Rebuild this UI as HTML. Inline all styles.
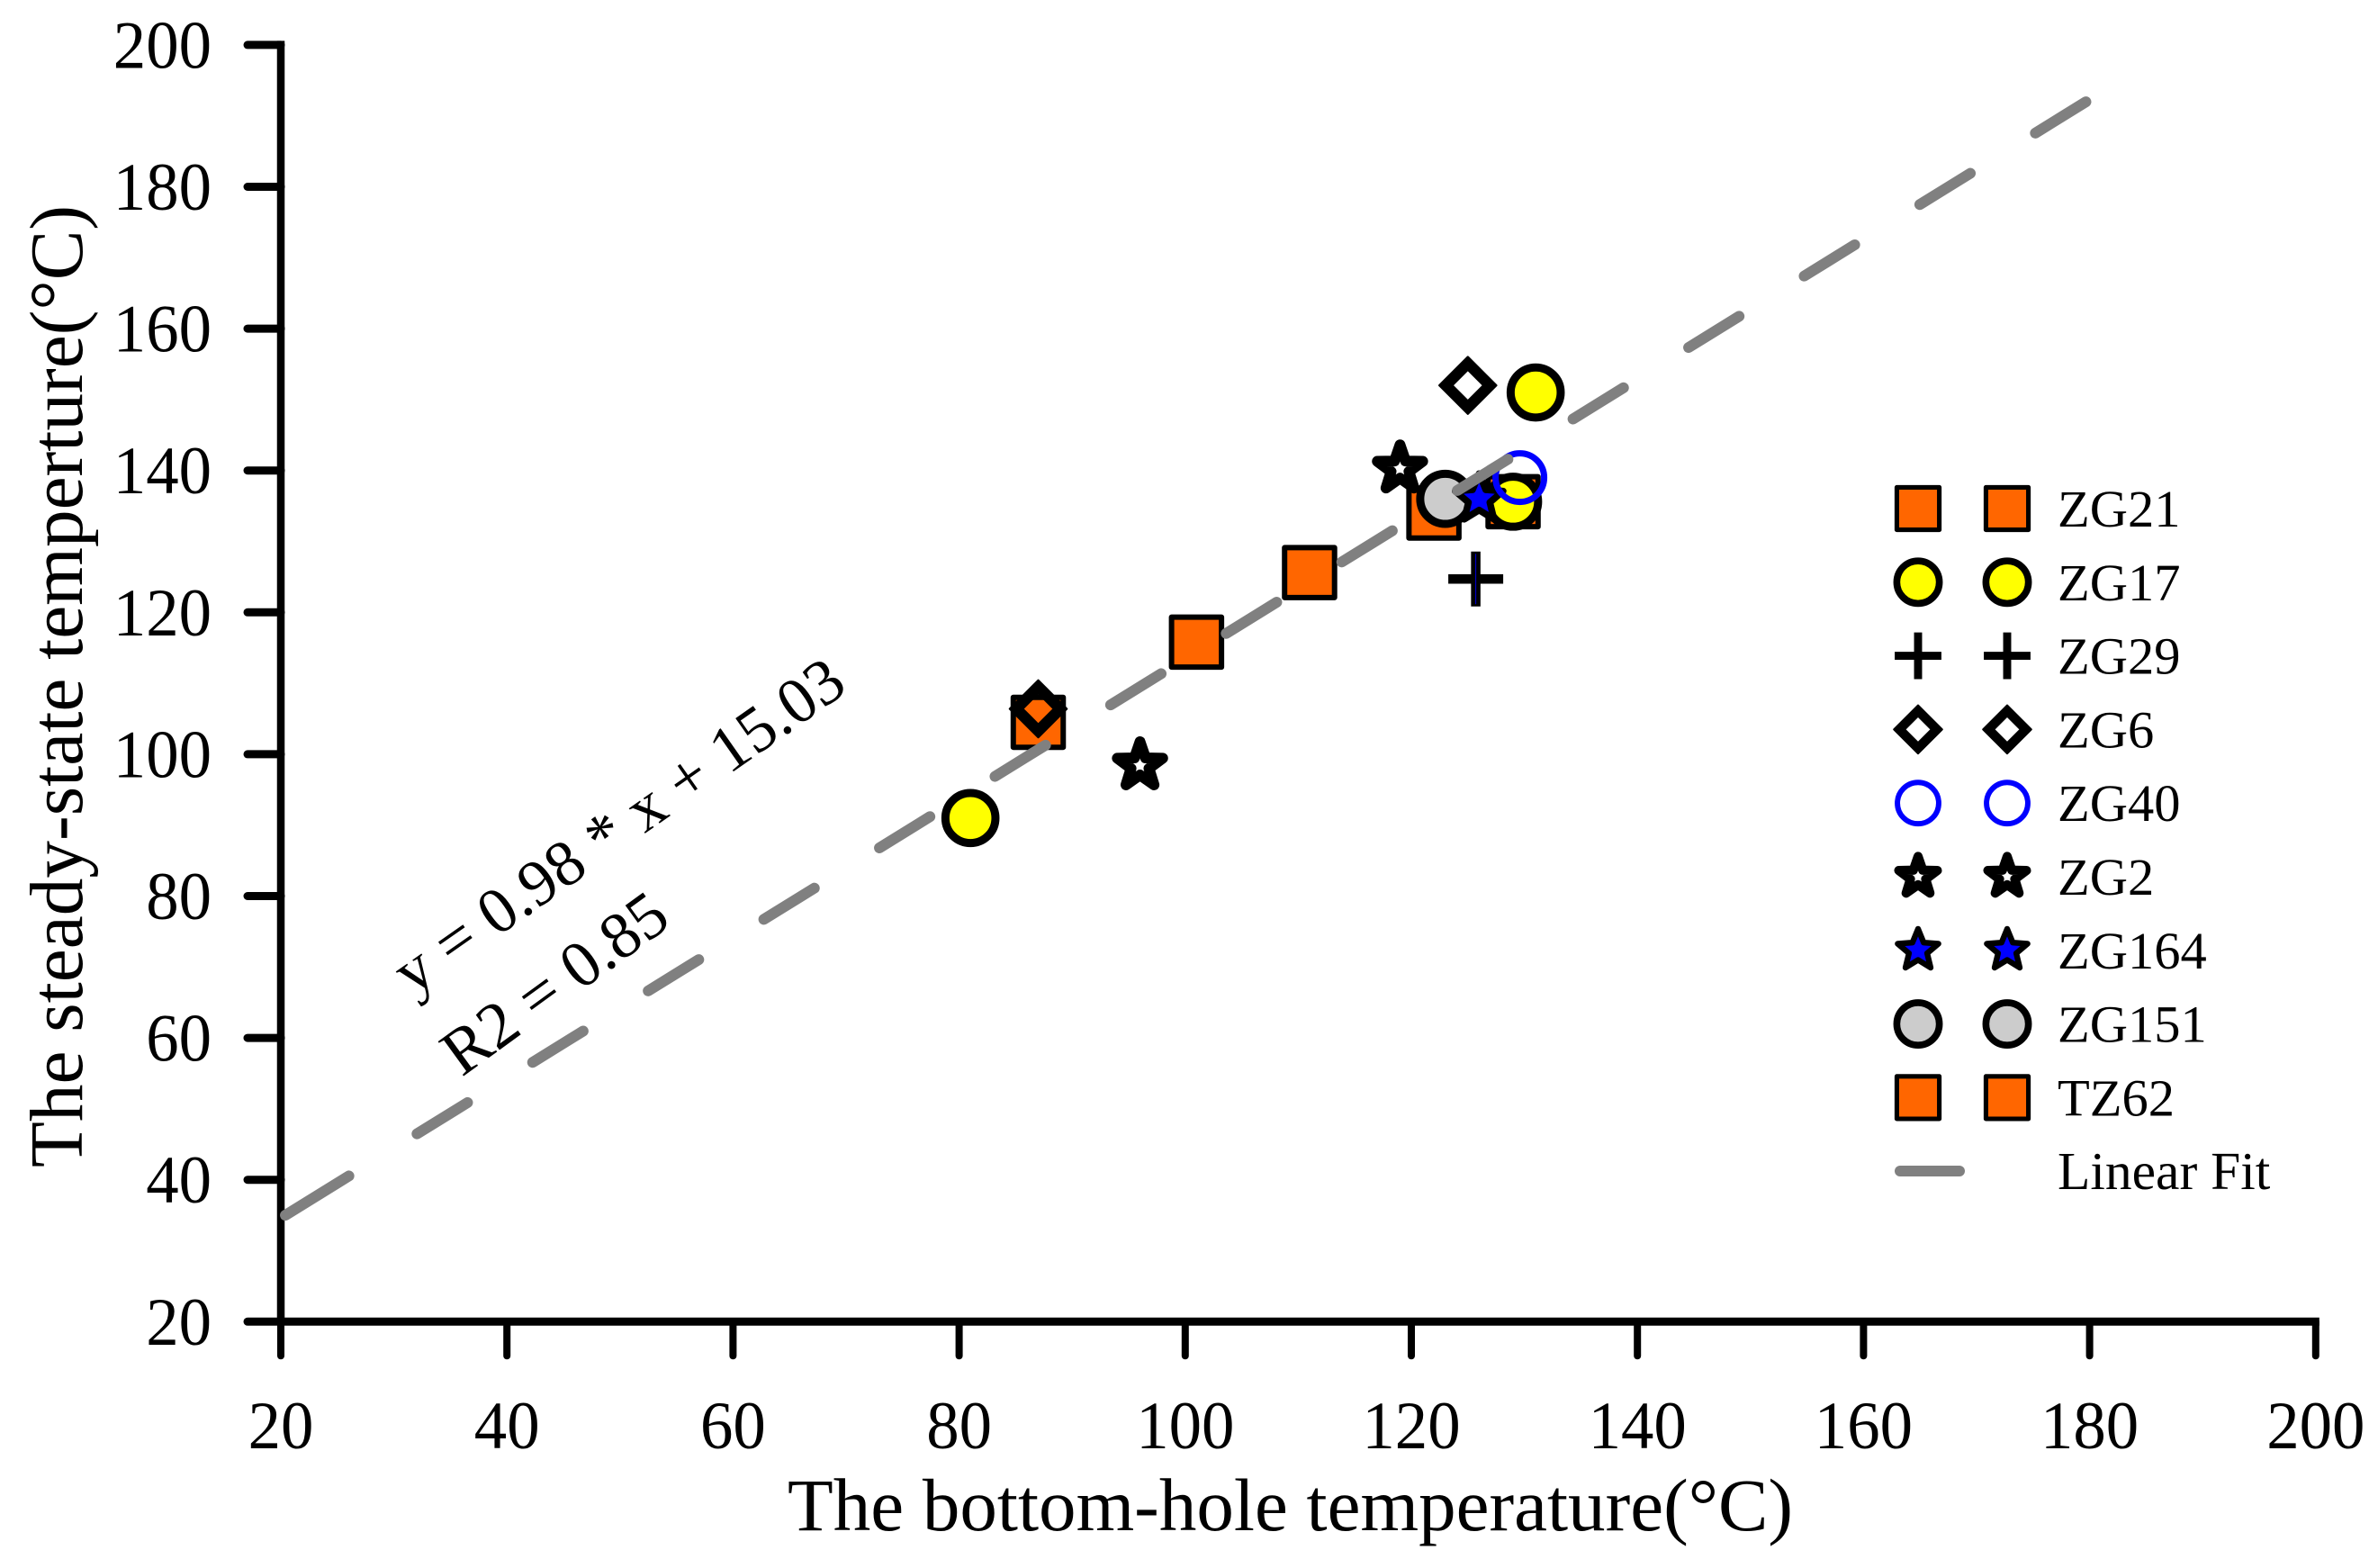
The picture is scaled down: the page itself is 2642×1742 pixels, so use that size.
<!DOCTYPE html>
<html lang="en">
<head>
<meta charset="utf-8">
<title>Steady-state vs bottom-hole temperature</title>
<style>
html,body{margin:0;padding:0;background:#fff}
svg{display:block}
text{font-family:"Liberation Serif",serif;fill:#000}
</style>
</head>
<body>
<svg id="chart" xmlns="http://www.w3.org/2000/svg" width="2642" height="1742" viewBox="0 0 2642 1742">
  <rect x="0" y="0" width="2642" height="1742" fill="#ffffff"/>
  <g id="axes"></g>
  <g id="marks"></g>
  <g id="fit"></g>
  <g id="legend"></g>
  <text x="875" y="1700" font-size="83" textLength="1117" lengthAdjust="spacingAndGlyphs">The bottom-hole temperature(°C)</text>
  <text transform="translate(91 1297) rotate(-90)" x="0" y="0" font-size="84" textLength="1069" lengthAdjust="spacingAndGlyphs">The steady-state temperture(°C)</text>
  <text transform="translate(458 1107) rotate(-35)" x="0" y="0" font-size="72" textLength="593" lengthAdjust="spacing">y = 0.98 * x + 15.03</text>
  <text transform="translate(513 1197) rotate(-36)" x="0" y="0" font-size="73" textLength="290" lengthAdjust="spacing">R2 = 0.85</text>
</svg>
<script>
var xTicks = [20, 40, 60, 80, 100, 120, 140, 160, 180, 200];
var yTicks = [20, 40, 60, 80, 100, 120, 140, 160, 180, 200];

var zg21X = [111, 101];
var zg21Y = [125.6, 115.8];
var tz62X = [87, 122, 129];
var tz62Y = [104.5, 134, 135.6];
var zg151X = [123];
var zg151Y = [136];
var zg17X = [81, 131, 129];
var zg17Y = [91, 151, 135.6];
var zg6X = [125, 87];
var zg6Y = [152, 106.4];
var zg29X = [125.7];
var zg29Y = [124.7];
var zg2X = [119, 96];
var zg2Y = [140.25, 98.4];
var zg164X = [126];
var zg164Y = [136];
var zg40X = [129.6];
var zg40Y = [139];

var fitX = [20.4, 180];
var fitY = [35, 192.3];

var legendLabels = ['ZG21', 'ZG17', 'ZG29', 'ZG6', 'ZG40', 'ZG2', 'ZG164', 'ZG151', 'TZ62'];
var legendKinds = ['square', 'yellow', 'plus', 'diamond', 'ring', 'star', 'bluestar', 'gray', 'square'];

var NS = 'http://www.w3.org/2000/svg';
function sx(v) { return 312 + (v - 20) * 12.56; }
function sy(v) { return 1468.3 - (v - 20) * 7.88; }

function make(tag, parent, attrs) {
  var el = document.createElementNS(NS, tag);
  for (var k in attrs) { el.setAttribute(k, attrs[k]); }
  parent.appendChild(el);
  return el;
}

function starPoints(R, r) {
  var pts = [];
  for (var i = 0; i < 10; i++) {
    var a = -Math.PI / 2 + i * Math.PI / 5;
    var d = i % 2 === 0 ? R : r;
    pts.push((d * Math.cos(a)).toFixed(2) + ',' + (d * Math.sin(a)).toFixed(2));
  }
  return pts.join(' ');
}

function drawMarker(parent, kind, cx, cy, s) {
  var g = make('g', parent, { transform: 'translate(' + cx + ' ' + cy + ') scale(' + s + ')' });
  
  
  if (kind === 'square') {
    make('rect', g, { x: -27.75, y: -27.75, width: 55.5, height: 55.5, fill: '#ff6600', stroke: '#000', 'stroke-width': 6, 'stroke-linejoin': 'round' });
  } else if (kind === 'yellow') {
    make('circle', g, { r: 27.8, fill: '#ffff00', stroke: '#000', 'stroke-width': 9 });
  } else if (kind === 'gray') {
    make('circle', g, { r: 27.8, fill: '#cccccc', stroke: '#000', 'stroke-width': 9 });
  } else if (kind === 'ring') {
    make('circle', g, { r: 27, fill: 'none', stroke: '#0000ff', 'stroke-width': 7 });
  } else if (kind === 'plus') {
    make('path', g, { d: 'M-30.5 0H30.5M0 -30.5V30.5', fill: 'none', stroke: '#000', 'stroke-width': 10.5 });
    if (s === 1) {
      make('path', g, { d: 'M0 -28V28', fill: 'none', stroke: '#0000dd', 'stroke-width': 1 });
    }
  } else if (kind === 'diamond') {
    make('path', g, { d: 'M0 -31.5L31.5 0L0 31.5L-31.5 0ZM0 -17.5L-17.5 0L0 17.5L17.5 0Z', fill: '#000', 'fill-rule': 'evenodd', stroke: '#000', 'stroke-width': 2.5, 'stroke-linejoin': 'round' });
  } else if (kind === 'star') {
    make('polygon', g, { points: starPoints(26.5, 10.5), fill: '#ffffff', stroke: '#000', 'stroke-width': 12, 'stroke-linejoin': 'round' });
  } else if (kind === 'bluestar') {
    make('polygon', g, { points: starPoints(28, 12.5), fill: '#0000ff', stroke: '#000', 'stroke-width': 7.5, 'stroke-linejoin': 'round' });
  }
}

function drawSeries(kind, xs, ys, name) {
  var marks = document.getElementById('marks');
  var g = make('g', marks, {});
  
  
  for (var i = 0; i < xs.length; i++) {
    drawMarker(g, kind, sx(xs[i]), sy(ys[i]), 1);
  }
}

var axes = document.getElementById('axes');
var yAxisLine = make('line', axes, { x1: sx(20), x2: sx(20), y1: sy(200) - 4.5, y2: sy(20), stroke: '#000', 'stroke-width': 8.5 });


var xAxisLine = make('line', axes, { x1: sx(20), x2: sx(200) + 4, y1: sy(20), y2: sy(20), stroke: '#000', 'stroke-width': 9 });



yTicks.forEach(function (v) {
  var t = make('line', axes, { x1: sx(20) - 37, x2: sx(20), y1: sy(v), y2: sy(v), stroke: '#000', 'stroke-width': 9, 'stroke-linecap': 'round' });
  
  
  var l = make('text', axes, { x: 235, y: sy(v) + 25.5, 'font-size': 75, 'text-anchor': 'end', textLength: String(v).length * 36.4, lengthAdjust: 'spacingAndGlyphs' });
  l.textContent = v;
  
  
});

xTicks.forEach(function (v) {
  var t = make('line', axes, { x1: sx(v), x2: sx(v), y1: sy(20), y2: sy(20) + 38, stroke: '#000', 'stroke-width': 8, 'stroke-linecap': 'round' });
  
  
  var l = make('text', axes, { x: sx(v), y: 1609, 'font-size': 75, 'text-anchor': 'middle', textLength: String(v).length * 36.4, lengthAdjust: 'spacingAndGlyphs' });
  l.textContent = v;
  
  
});

drawSeries('square', zg21X, zg21Y, 'series-zg21');
drawSeries('square', tz62X, tz62Y, 'series-tz62');
drawSeries('gray', zg151X, zg151Y, 'series-zg151');
drawSeries('yellow', zg17X, zg17Y, 'series-zg17');
drawSeries('diamond', zg6X, zg6Y, 'series-zg6');
drawSeries('plus', zg29X, zg29Y, 'series-zg29');
drawSeries('star', zg2X, zg2Y, 'series-zg2');
drawSeries('bluestar', zg164X, zg164Y, 'series-zg164');
drawSeries('ring', zg40X, zg40Y, 'series-zg40');

var fit = document.getElementById('fit');
var fitLine = make('line', fit, {
  x1: sx(fitX[0]), y1: sy(fitY[0]), x2: sx(fitX[1]), y2: sy(fitY[1]),
  stroke: '#808080', 'stroke-width': 12, 'stroke-linecap': 'round',
  'stroke-dasharray': '83 89 66 85 66 85 66 85 66 85 66 85 66 85 66 85 66 85 66 85 66 85 66 85 66 85 66 85 66 85 66 85 66 85'
});



var legend = document.getElementById('legend');
legendLabels.forEach(function (label, i) {
  var rowY = 565 + i * 81.8;
  var g = make('g', legend, {});
  
  
  drawMarker(g, legendKinds[i], 2131, rowY, 0.85);
  drawMarker(g, legendKinds[i], 2230, rowY, 0.85);
  var t = make('text', g, { x: 2286, y: rowY + 20, 'font-size': 58.5 });
  t.textContent = label;
  
  
});

var fitEntry = make('g', legend, {});


var fitSwatch = make('line', fitEntry, { x1: 2111, x2: 2177, y1: 1301, y2: 1301, stroke: '#808080', 'stroke-width': 12, 'stroke-linecap': 'round' });


var fitLabel = make('text', fitEntry, { x: 2286, y: 1321, 'font-size': 59.5 });
fitLabel.textContent = 'Linear Fit';


</script>
</body>
</html>
